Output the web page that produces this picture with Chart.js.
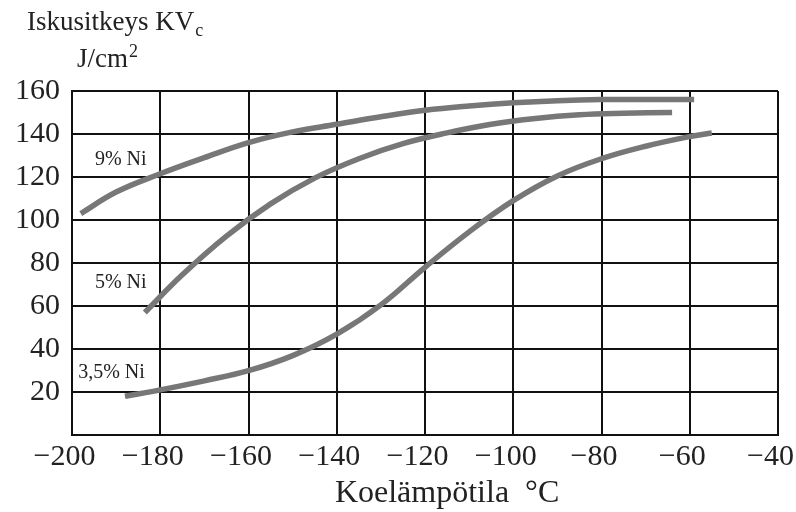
<!DOCTYPE html>
<html>
<head>
<meta charset="utf-8">
<script src="https://cdn.jsdelivr.net/npm/chart.js@4"></script>
<style>
  html, body { margin: 0; padding: 0; background: #fff; }
  #wrap { width: 796px; height: 512px; }
</style>
</head>
<body>
<div id="wrap"><canvas id="kvChart" width="796" height="512"></canvas></div>
<script>
// series names
const seriesNames = ["9% Ni", "5% Ni", "3,5% Ni"];

// temperature (°C) / impact toughness (J/cm2)
const ni9_T = [-198, -190, -180, -170, -160, -150, -140, -130, -120, -110, -100, -90, -80, -70, -59];
const ni9_KV = [103, 113, 121.5, 129, 136, 141, 144.5, 148, 151, 153, 154.5, 155.5, 156, 156, 156];

const ni5_T = [-183.5, -175, -165, -155, -145, -135, -125, -115, -105, -95, -85, -75, -64];
const ni5_KV = [57, 74.5, 92.5, 107.5, 119.5, 128.5, 135.5, 140.5, 144.5, 147.2, 148.9, 149.6, 150];

const ni35_T = [-188, -180, -170, -160, -150, -140, -130, -120, -110, -100, -90, -80, -70, -60, -55];
const ni35_KV = [18, 21, 25.2, 29.9, 36.9, 46.9, 60.5, 78, 94.5, 109, 120.5, 128.5, 134.3, 138.8, 140.5];

// label anchor points (data units)
const labelT = [-194.8, -194.8, -198.6];
const labelKV = [128, 70.7, 28.8];

const xTicks = [-200, -180, -160, -140, -120, -100, -80, -60, -40];
const yTicks = [20, 40, 60, 80, 100, 120, 140, 160];

const xTitle = "Koelämpötila  °C";

const toPoints = (xs, ys) => xs.map((x, i) => ({ x: x, y: ys[i] }));
// the digits sit centred on the grid line, the minus hangs to the left
const minus = (v) => (v < 0 ? "\u2212" + Math.abs(v) + "\u2002" : "" + v);

const serif = "'Liberation Serif', 'DejaVu Serif', serif";

// draws the axis titles and the curve labels
const textPlugin = {
  id: "texts",
  afterDraw(chart) {
    const c = chart.ctx;
    const xs = chart.scales.x;
    const ys = chart.scales.y;
    c.save();
    c.fillStyle = "#222";
    c.textBaseline = "middle";
    c.textAlign = "left";
    c.font = "20px " + serif;
    seriesNames.forEach((name, i) => {
      c.fillText(name, xs.getPixelForValue(labelT[i]), ys.getPixelForValue(labelKV[i]));
    });

    // x axis title
    c.font = "32px " + serif;
    c.textAlign = "center";
    c.fillText(xTitle, xs.getPixelForValue(-115), 494);

    // y axis title
    c.textAlign = "left";
    c.textBaseline = "alphabetic";
    c.font = "27px " + serif;
    c.fillText("Iskusitkeys KV", 27, 30);
    const w = c.measureText("Iskusitkeys KV").width;
    c.font = "18px " + serif;
    c.fillText("c", 27 + w + 1, 36);
    c.font = "27px " + serif;
    c.fillText("J/cm", 77, 67);
    const w2 = c.measureText("J/cm").width;
    c.font = "18px " + serif;
    c.fillText("2", 77 + w2 + 1, 57);
    c.restore();
  },
};

const ctx = document.getElementById("kvChart");

new Chart(ctx, {
  type: "line",
  data: {
    datasets: [
      { label: seriesNames[0], data: toPoints(ni9_T, ni9_KV) },
      { label: seriesNames[1], data: toPoints(ni5_T, ni5_KV) },
      { label: seriesNames[2], data: toPoints(ni35_T, ni35_KV) },
    ].map((d) => ({
      ...d,
      borderColor: "#777777",
      borderWidth: 5.5,
      pointRadius: 0,
      fill: false,
      tension: 0.4,
    })),
  },
  options: {
    responsive: false,
    animation: false,
    layout: { padding: { left: 0, top: 91, right: 18, bottom: 0 } },
    scales: {
      x: {
        type: "linear",
        min: -200,
        max: -40,
        afterBuildTicks: (s) => { s.ticks = xTicks.map((v) => ({ value: v })); },
        afterFit: (s) => { s.height = 77; s.paddingLeft = 0; s.paddingRight = 0; },
        grid: { color: "#111", lineWidth: 2, drawTicks: false },
        border: { color: "#111", width: 2 },
        ticks: {
          color: "#222",
          padding: 4,
          maxRotation: 0,
          autoSkip: false,
          font: { size: 30, family: serif },
          callback: (v) => minus(v),
        },
      },
      y: {
        min: 0,
        max: 160,
        afterBuildTicks: (s) => { s.ticks = [0].concat(yTicks).map((v) => ({ value: v })); },
        afterFit: (s) => { s.width = 72; s.paddingTop = 0; s.paddingBottom = 0; },
        grid: { color: "#111", lineWidth: 2, drawTicks: false },
        border: { color: "#111", width: 2 },
        ticks: {
          color: "#222",
          padding: 12,
          font: { size: 30, family: serif },
          callback: (v) => (v == 0 ? "" : minus(v)),
        },
      },
    },
    plugins: {
      legend: { display: false },
      tooltip: { enabled: false },
    },
  },
  plugins: [textPlugin],
});
</script>
</body>
</html>
